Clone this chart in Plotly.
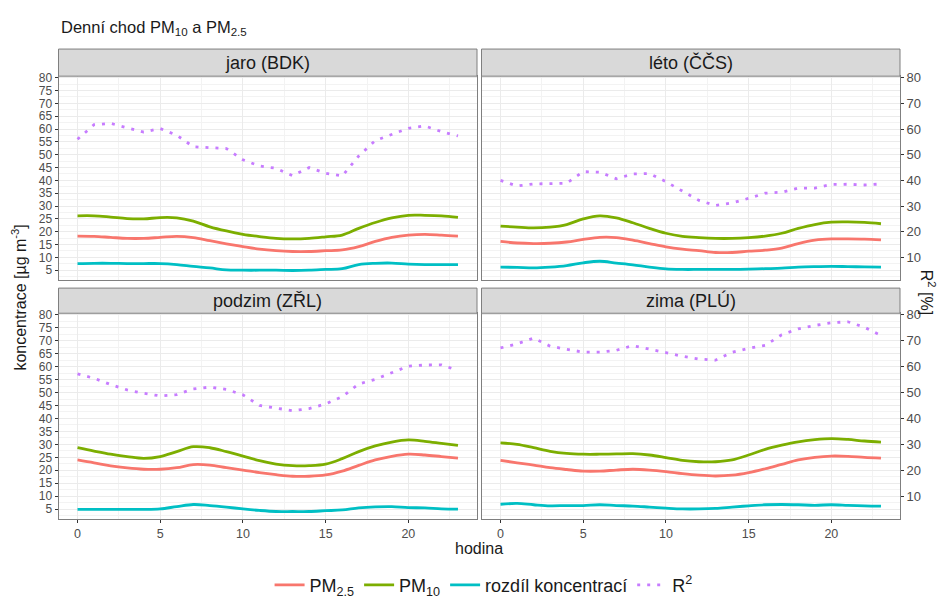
import plotly.graph_objects as go

W, H = 939, 604

hours = list(range(24))

panel_titles = ["jaro (BDK)", "léto (ČČS)", "podzim (ZŘL)", "zima (PLÚ)"]

jaro_pm10 = [26.2, 26.2, 25.7, 25.1, 25.0, 25.5, 25.4, 24.1, 21.9, 20.3, 19.0, 18.1, 17.4, 17.2, 17.4, 18.0, 18.7, 21.3, 23.6, 25.4, 26.4, 26.4, 26.2, 25.6]
jaro_pm25 = [18.3, 18.2, 17.8, 17.4, 17.4, 17.8, 18.2, 17.7, 16.5, 15.3, 14.2, 13.2, 12.6, 12.3, 12.3, 12.6, 12.9, 14.2, 16.2, 17.8, 18.7, 19.0, 18.7, 18.3]
jaro_diff = [7.6, 7.7, 7.7, 7.6, 7.6, 7.6, 7.2, 6.5, 5.9, 5.1, 5.0, 5.0, 5.0, 4.9, 5.0, 5.3, 5.6, 7.2, 7.7, 7.8, 7.4, 7.2, 7.2, 7.2]
jaro_r2 = [56.0, 61.7, 62.2, 60.6, 58.8, 60.2, 57.6, 53.1, 52.7, 52.4, 48.0, 45.6, 44.7, 41.8, 45.0, 42.8, 41.7, 49.5, 55.5, 57.8, 60.3, 61.2, 59.0, 57.3]

leto_pm10 = [22.2, 21.8, 21.5, 21.8, 22.8, 25.0, 26.2, 25.4, 23.5, 21.3, 19.4, 18.2, 17.7, 17.4, 17.4, 17.7, 18.3, 19.4, 21.3, 22.8, 23.7, 23.8, 23.6, 23.1]
leto_pm25 = [16.2, 15.6, 15.4, 15.5, 16.0, 17.0, 17.8, 17.7, 16.7, 15.4, 14.1, 13.2, 12.6, 11.9, 11.9, 12.4, 12.8, 13.6, 15.4, 16.7, 17.2, 17.2, 17.1, 16.8]
leto_diff = [6.2, 6.1, 5.9, 6.2, 6.8, 7.9, 8.5, 7.8, 7.1, 6.2, 5.5, 5.3, 5.3, 5.3, 5.3, 5.4, 5.6, 5.8, 6.2, 6.4, 6.5, 6.4, 6.3, 6.2]
leto_r2 = [40.0, 37.8, 38.6, 38.8, 38.9, 43.4, 43.2, 40.6, 42.5, 42.7, 39.5, 35.8, 32.2, 30.2, 31.2, 33.0, 35.0, 35.4, 37.0, 37.0, 38.4, 38.5, 38.2, 38.6]

podzim_pm10 = [28.7, 27.4, 26.2, 25.3, 24.6, 25.3, 27.2, 29.1, 28.7, 27.2, 25.5, 23.7, 22.4, 21.8, 21.8, 22.4, 24.5, 27.2, 29.4, 30.9, 31.7, 31.2, 30.4, 29.6]
podzim_pm25 = [24.0, 22.9, 21.7, 20.9, 20.4, 20.4, 21.0, 22.2, 22.0, 21.0, 20.1, 19.1, 18.3, 17.7, 17.7, 18.2, 19.7, 21.9, 24.0, 25.4, 26.2, 25.9, 25.3, 24.7]
podzim_diff = [4.9, 4.9, 4.9, 4.9, 4.9, 5.1, 6.0, 6.8, 6.4, 5.8, 5.1, 4.5, 4.1, 4.1, 4.1, 4.4, 4.7, 5.5, 5.9, 6.0, 5.6, 5.5, 5.1, 5.0]
podzim_r2 = [57.2, 55.5, 53.1, 51.0, 49.7, 48.7, 49.2, 51.4, 52.1, 51.2, 49.1, 45.0, 44.0, 43.0, 43.8, 45.6, 48.4, 53.3, 55.1, 57.5, 60.2, 60.6, 60.7, 58.5]

zima_pm10 = [30.6, 30.0, 28.7, 27.3, 26.5, 26.2, 26.2, 26.3, 26.4, 25.9, 24.9, 23.8, 23.3, 23.3, 24.0, 25.9, 28.1, 29.7, 31.0, 31.8, 32.2, 31.9, 31.3, 30.9]
zima_pm25 = [23.8, 22.9, 22.0, 21.0, 20.3, 19.7, 19.7, 20.1, 20.4, 20.1, 19.5, 18.7, 18.1, 17.8, 18.1, 19.1, 20.6, 22.3, 24.0, 25.0, 25.5, 25.4, 25.0, 24.7]
zima_diff = [6.9, 7.2, 6.7, 6.3, 6.4, 6.4, 6.7, 6.4, 6.2, 5.8, 5.4, 5.1, 5.1, 5.3, 5.8, 6.3, 6.7, 6.8, 6.7, 6.5, 6.7, 6.5, 6.3, 6.2]
zima_r2 = [67.2, 68.8, 71.0, 67.9, 66.7, 65.6, 65.6, 66.3, 68.1, 66.6, 65.4, 64.0, 62.9, 62.5, 65.5, 67.1, 68.2, 72.3, 74.6, 75.9, 76.9, 77.3, 75.2, 72.0]

series_names = ["PM<sub>2.5</sub>", "PM<sub>10</sub>", "rozdíl koncentrací", "R<sup>2</sup>"]
series_colors = ["#F8766D", "#7CAE00", "#00BFC4", "#C77CFF"]

panels = [
    (jaro_pm25, jaro_pm10, jaro_diff, jaro_r2),
    (leto_pm25, leto_pm10, leto_diff, leto_r2),
    (podzim_pm25, podzim_pm10, podzim_diff, podzim_r2),
    (zima_pm25, zima_pm10, zima_diff, zima_r2),
]

FONT = "Liberation Sans, Arial, sans-serif"
YR = [1.2, 80.6]
XR = [-1.15, 24.15]

def px(x):
    return x / W

def py(y):
    return 1 - y / H

xdom_left = [px(58.5), px(477)]
xdom_right = [px(481.5), px(900)]
ydom_top = [py(280), py(71.7)]
ydom_bot = [py(524.3), py(314)]

fig = go.Figure()

for i, data in enumerate(panels):
    xa = "x" if i == 0 else f"x{i+1}"
    ya = "y" if i == 0 else f"y{i+1}"
    for j, vals in enumerate(data):
        yax = ya
        if j == 3 and i == 1:
            yax = "y5"
        if j == 3 and i == 3:
            yax = "y6"
        if j < 3:
            line = dict(color=series_colors[j], width=2.8, shape="spline", smoothing=1.0)
        else:
            line = dict(color=series_colors[j], width=2.8, dash="3px,7px")
        fig.add_trace(go.Scatter(
            x=hours, y=vals, mode="lines", name=series_names[j],
            line=line, xaxis=xa, yaxis=yax,
            legendgroup=series_names[j], showlegend=(i == 0),
            hoverinfo="skip",
        ))

ytickfont = dict(family=FONT, size=12, color="#4D4D4D")
xtickfont = dict(family=FONT, size=12.5, color="#4D4D4D")
rtickfont = dict(family=FONT, size=13, color="#4D4D4D")
grid_major = "#EBEBEB"
grid_minor = "#F3F3F3"
border = "#7F7F7F"

def xaxis(dom, anchor, labels):
    return dict(
        domain=dom, anchor=anchor, range=XR, tick0=0, dtick=5,
        showgrid=True, gridcolor=grid_major, gridwidth=1,
        minor=dict(dtick=2.5, tick0=0, showgrid=True, gridcolor=grid_minor, gridwidth=1),
        showline=True, mirror=True, linecolor=border, linewidth=1,
        ticks="outside" if labels else "", ticklen=3, tickcolor="#333333",
        showticklabels=labels, tickfont=xtickfont, zeroline=False,
    )

def yaxis(dom, anchor, labels):
    return dict(
        domain=dom, anchor=anchor, range=YR, tick0=0, dtick=5,
        showgrid=True, gridcolor=grid_major, gridwidth=1,
        minor=dict(dtick=2.5, tick0=0, showgrid=True, gridcolor=grid_minor, gridwidth=1),
        showline=True, mirror=True, linecolor=border, linewidth=1,
        ticks="outside" if labels else "", ticklen=3, tickcolor="#333333",
        showticklabels=labels, tickfont=ytickfont, zeroline=False,
    )

def yaxis_right(overlay, anchor):
    return dict(
        overlaying=overlay, anchor=anchor, side="right", range=YR,
        tick0=0, dtick=10, showgrid=False, zeroline=False,
        ticks="outside", ticklen=3, tickcolor="#333333",
        showticklabels=True, tickfont=rtickfont, showline=False,
    )

fig.update_layout(
    width=W, height=H,
    margin=dict(l=0, r=0, t=0, b=0),
    paper_bgcolor="white", plot_bgcolor="white",
    font=dict(family=FONT, color="#1A1A1A"),
    xaxis=xaxis(xdom_left, "y", False),
    yaxis=yaxis(ydom_top, "x", True),
    xaxis2=xaxis(xdom_right, "y2", False),
    yaxis2=yaxis(ydom_top, "x2", False),
    xaxis3=xaxis(xdom_left, "y3", True),
    yaxis3=yaxis(ydom_bot, "x3", True),
    xaxis4=xaxis(xdom_right, "y4", True),
    yaxis4=yaxis(ydom_bot, "x4", False),
    yaxis5=yaxis_right("y2", "x2"),
    yaxis6=yaxis_right("y4", "x4"),
    showlegend=True,
    legend=dict(
        orientation="h", x=0.515, xanchor="center", y=py(592), yanchor="middle",
        font=dict(family=FONT, size=18, color="#1A1A1A"),
        itemwidth=30, tracegroupgap=0, bgcolor="rgba(0,0,0,0)",
    ),
)

shapes = []
annotations = []
strips = [
    (xdom_left, 44, 71.7, panel_titles[0]),
    (xdom_right, 44, 71.7, panel_titles[1]),
    (xdom_left, 288.3, 314, panel_titles[2]),
    (xdom_right, 288.3, 314, panel_titles[3]),
]
for dom, top, bot, txt in strips:
    shapes.append(dict(
        type="rect", xref="paper", yref="paper",
        x0=dom[0], x1=dom[1], y0=py(bot), y1=py(top),
        fillcolor="#D9D9D9", line=dict(color=border, width=1), layer="above",
    ))
    annotations.append(dict(
        x=(dom[0] + dom[1]) / 2, y=py((top + bot) / 2), xref="paper", yref="paper",
        text=txt, showarrow=False, xanchor="center", yanchor="middle",
        font=dict(family=FONT, size=18, color="#1A1A1A"),
    ))

annotations.append(dict(
    x=px(59), y=py(22), xref="paper", yref="paper",
    text="Denní chod PM<sub>10</sub> a PM<sub>2.5</sub>", showarrow=False,
    xanchor="left", yanchor="middle",
    font=dict(family=FONT, size=16.5, color="#1A1A1A"),
))
annotations.append(dict(
    x=px(19), y=py(298), xref="paper", yref="paper",
    text="koncentrace [µg m<sup>-3</sup>]", showarrow=False, textangle=-90,
    xanchor="center", yanchor="middle",
    font=dict(family=FONT, size=16, color="#1A1A1A"),
))
annotations.append(dict(
    x=px(928), y=py(292), xref="paper", yref="paper",
    text="R<sup>2</sup> [%]", showarrow=False, textangle=90,
    xanchor="center", yanchor="middle",
    font=dict(family=FONT, size=16, color="#1A1A1A"),
))
annotations.append(dict(
    x=px(479), y=py(554), xref="paper", yref="paper",
    text="hodina", showarrow=False,
    xanchor="center", yanchor="middle",
    font=dict(family=FONT, size=16, color="#1A1A1A"),
))

fig.update_layout(shapes=shapes, annotations=annotations)

fig.write_html("out.html")
